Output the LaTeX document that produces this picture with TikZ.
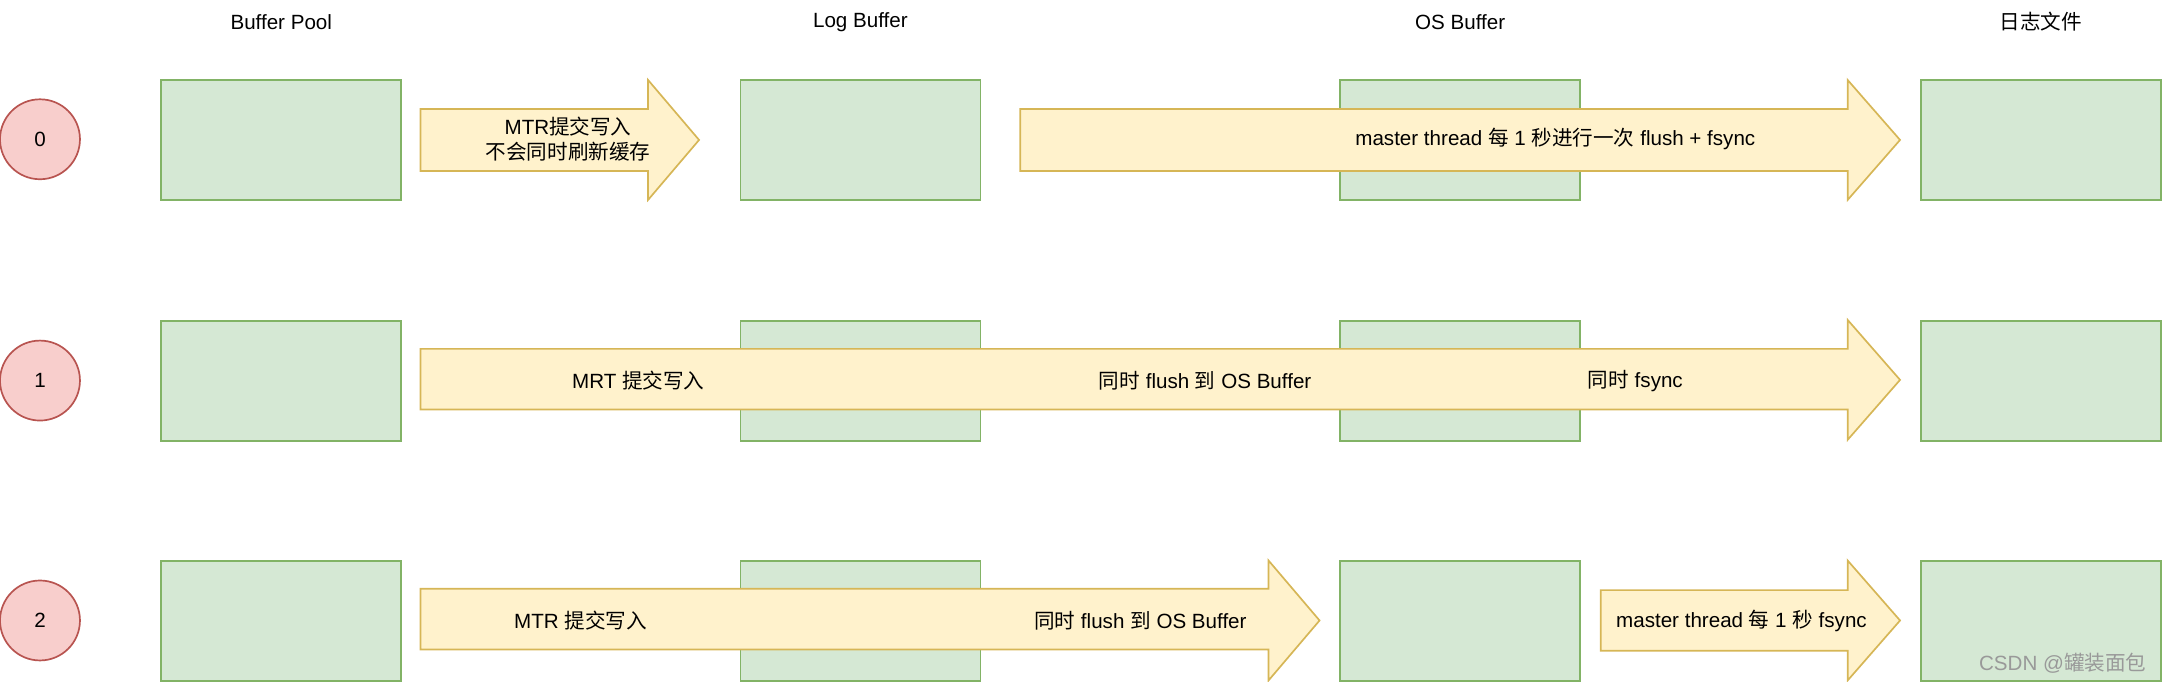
\documentclass[tikz,border=0pt]{standalone}
\usepackage{fontspec}
\setmainfont{Liberation Sans}
\newfontfamily\cjk{Noto Sans CJK SC}
\newcommand{\zh}[1]{{\cjk #1}}
\begin{document}
\begin{tikzpicture}[x=0.02cm,y=-0.02cm,
  box/.style={draw=green!40!black!60!green,fill=boxfill,line width=0.7pt},
  arr/.style={draw=arrline,fill=arrfill,line width=0.7pt},
  txt/.style={font=\fontsize{8.5}{10.5}\selectfont,inner sep=0pt,align=center},
  num/.style={circle,draw=circline,fill=circfill,minimum size=1.16cm,inner sep=0pt,font=\fontsize{8.5}{10}\selectfont,line width=0.7pt}]
\definecolor{boxfill}{HTML}{D5E8D4}\definecolor{boxline}{HTML}{82B366}
\definecolor{arrfill}{HTML}{FFF2CC}\definecolor{arrline}{HTML}{D6B656}
\definecolor{circfill}{HTML}{F8CECC}\definecolor{circline}{HTML}{B85450}
\tikzset{box/.style={draw=boxline,fill=boxfill,line width=0.7pt}}
\useasboundingbox (0,0) rectangle (1568,494);
% headers
\node[txt] (h1) at (204,16) {Buffer Pool};
\node[txt] (h2) at (624,16) {Log Buffer};
\node[txt] (h3) at (1059,16) {OS Buffer};
\node[txt] (h4) at (1480,16) {\zh{日志文件}};
% boxes
\foreach \r/\y in {0/58,1/233,2/407}{
  \foreach \c/\x in {a/117,b/537,c/972,d/1393}{
    \path[box] (\x,\y) rectangle ++(174,87) coordinate (b\r\c);
  }
}
\node[num] (n0) at (29,101) {0};
\node[num] (n1) at (29,276) {1};
\node[num] (n2) at (29,450) {2};
% arrows
\newcommand{\bigarrow}[6]{% x1, x2(head start), x3(tip), ytop, ybot, mid
  \path[arr] (#1,#4) -- (#2,#4) -- (#2,#6-43.5) -- (#3,#6) -- (#2,#6+43.5) -- (#2,#5) -- (#1,#5) -- cycle;}
\bigarrow{305}{470}{507}{79}{124}{101.5}
\bigarrow{740}{1340}{1378}{79}{124}{101.5}
\bigarrow{305}{1340}{1378}{253}{297}{275.5}
\bigarrow{305}{920}{957}{427}{471}{450}
\bigarrow{1161}{1340}{1378}{428}{472}{450}
% labels
\node[txt] (t1) at (412,101) {MTR\zh{提交写入}\\\zh{不会同时刷新缓存}};
\node[txt] (t2) at (1128,101) {master thread \zh{每} 1 \zh{秒进行一次} flush + fsync};
\node[txt] (t3) at (463,276) {MRT \zh{提交写入}};
\node[txt] (t4) at (874,276) {\zh{同时} flush \zh{到} OS Buffer};
\node[txt] (t5) at (1186,276) {\zh{同时} fsync};
\node[txt] (t6) at (421,450) {MTR \zh{提交写入}};
\node[txt] (t7) at (827,450) {\zh{同时} flush \zh{到} OS Buffer};
\node[txt] (t8) at (1263,450) {master thread \zh{每} 1 \zh{秒} fsync};
\node[txt,text=gray!80,anchor=east] (wm) at (1557,481) {CSDN @\zh{罐装面包}};
\end{tikzpicture}
\end{document}
